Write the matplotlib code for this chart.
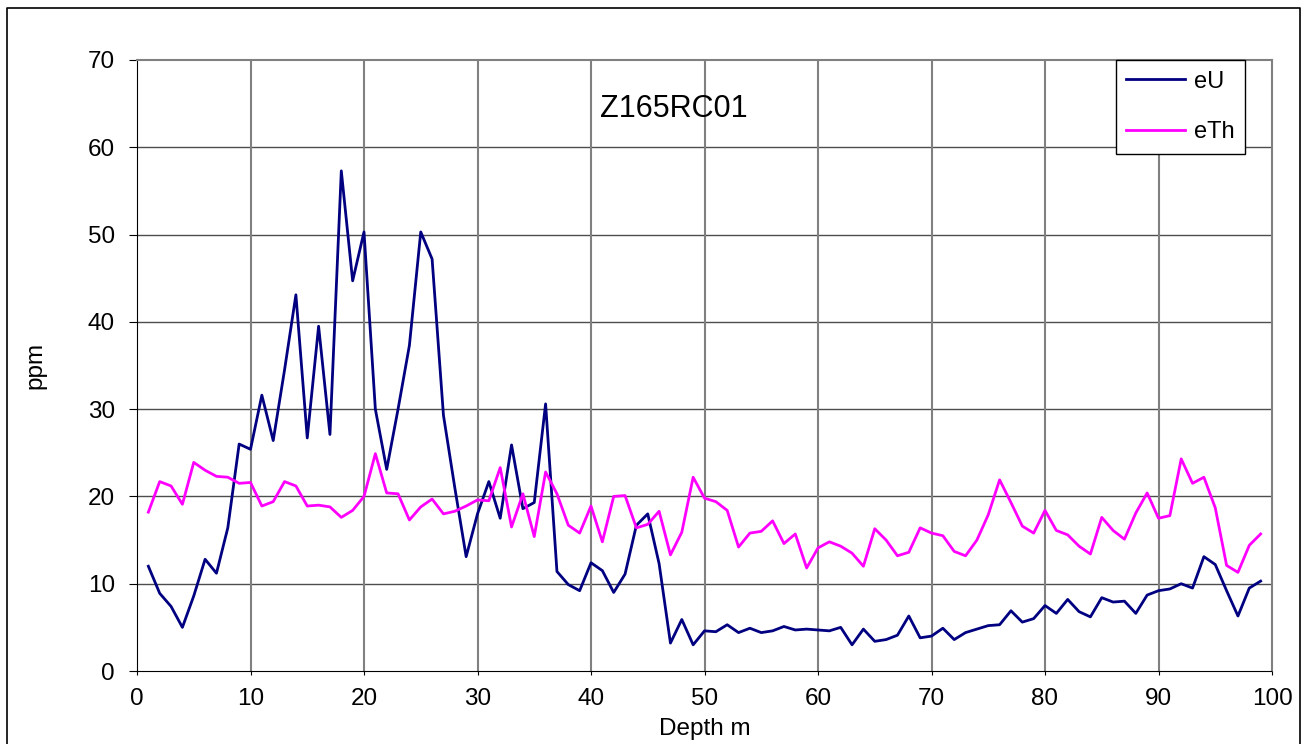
import matplotlib
matplotlib.use("Agg")
import matplotlib.pyplot as plt
from matplotlib.lines import Line2D
import numpy as np

plt.rcParams['font.family'] = ['Liberation Sans', 'DejaVu Sans']

# depth in metres, 1 m intervals
depth = list(range(1, 100))

eU = [12.0, 8.9, 7.4, 5.0, 8.6, 12.8, 11.2, 16.4, 26.0, 25.4,
      31.6, 26.4, 34.5, 43.1, 26.7, 39.5, 27.1, 57.3, 44.7, 50.3,
      30.0, 23.1, 30.0, 37.3, 50.3, 47.2, 29.3, 21.0, 13.1, 18.0,
      21.7, 17.5, 25.9, 18.6, 19.3, 30.6, 11.4, 9.9, 9.2, 12.4,
      11.5, 9.0, 11.1, 16.7, 18.0, 12.3, 3.2, 5.9, 3.0, 4.6,
      4.5, 5.3, 4.4, 4.9, 4.4, 4.6, 5.1, 4.7, 4.8, 4.7,
      4.6, 5.0, 3.0, 4.8, 3.4, 3.6, 4.1, 6.3, 3.8, 4.0,
      4.9, 3.6, 4.4, 4.8, 5.2, 5.3, 6.9, 5.6, 6.0, 7.5,
      6.6, 8.2, 6.8, 6.2, 8.4, 7.9, 8.0, 6.6, 8.7, 9.2,
      9.4, 10.0, 9.5, 13.1, 12.2, 9.2, 6.3, 9.5, 10.3]

eTh = [18.2, 21.7, 21.2, 19.1, 23.9, 23.0, 22.3, 22.2, 21.5, 21.6,
       18.9, 19.4, 21.7, 21.2, 18.9, 19.0, 18.8, 17.6, 18.4, 20.0,
       24.9, 20.4, 20.3, 17.3, 18.8, 19.7, 18.0, 18.3, 18.9, 19.6,
       19.5, 23.3, 16.5, 20.3, 15.4, 22.8, 20.3, 16.7, 15.8, 18.9,
       14.8, 20.0, 20.1, 16.4, 16.8, 18.3, 13.3, 15.9, 22.2, 19.8,
       19.4, 18.4, 14.2, 15.8, 16.0, 17.2, 14.6, 15.7, 11.8, 14.1,
       14.8, 14.3, 13.5, 12.0, 16.3, 15.0, 13.2, 13.6, 16.4, 15.8,
       15.5, 13.7, 13.2, 15.0, 17.9, 21.9, 19.3, 16.6, 15.8, 18.4,
       16.1, 15.6, 14.3, 13.4, 17.6, 16.1, 15.1, 18.1, 20.4, 17.5,
       17.8, 24.3, 21.5, 22.2, 18.7, 12.1, 11.3, 14.4, 15.7]

W, H = 1302, 744
fig = plt.figure(figsize=(W / 100, H / 100), dpi=100)

# chart area border (left, top, right; bottom is cut off)
x0, x1, ytop = 7 / W, 1300 / W, 1 - 8 / H
fig.add_artist(Line2D([x0, x0, x1, x1], [0, ytop, ytop, 0], transform=fig.transFigure,
                      color='black', linewidth=1.2))

ax = fig.add_axes([137 / W, 73 / H, 1135 / W, 611 / H])

ax.plot(depth, eU, color='#000080', linewidth=2.0, label='eU')
ax.plot(depth, eTh, color='#FF00FF', linewidth=2.0, label='eTh')

ax.set_xlim(0, 100)
ax.set_ylim(0, 70)
ax.set_xticks(np.arange(0, 101, 10))
ax.set_yticks(np.arange(0, 71, 10))

# grid: horizontal darker, vertical grey
for y in range(10, 70, 10):
    ax.axhline(y, color='#4d4d4d', linewidth=1.0, zorder=0)
for x in range(10, 100, 10):
    ax.axvline(x, color='#808080', linewidth=1.5, zorder=0)

ax.spines['left'].set_color('black')
ax.spines['bottom'].set_color('black')
ax.spines['bottom'].set_linestyle((0, (1, 1)))
ax.spines['top'].set_color('#808080')
ax.spines['right'].set_color('#808080')
ax.spines['top'].set_linewidth(1.5)
ax.spines['right'].set_linewidth(1.5)

ax.tick_params(axis='x', labelsize=17.5, direction='out', length=3, pad=9, colors='black')
ax.tick_params(axis='y', labelsize=17.5, direction='out', length=6, pad=10, colors='black')

ax.set_xlabel('Depth m', fontsize=17.5, labelpad=6)
ax.set_ylabel('ppm', fontsize=17.5, labelpad=30)

ax.text(0.473, 0.92, 'Z165RC01', transform=ax.transAxes, fontsize=22, ha='center', va='center')

leg = ax.legend(loc='upper right', bbox_to_anchor=(0.976, 1.0), borderaxespad=0, fontsize=17,
                frameon=True, fancybox=False, framealpha=1, edgecolor='black', handlelength=2.5,
                borderpad=0.45, labelspacing=1.2, handletextpad=0.35)
leg.get_frame().set_linewidth(1.0)
for h in leg.get_lines():
    h.set_linewidth(2.0)

fig.savefig('out.png', dpi=100)
